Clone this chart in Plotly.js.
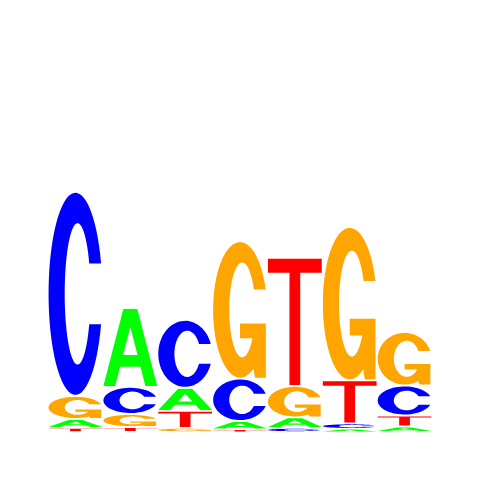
<!DOCTYPE html>
<html>
<head>
<meta charset="utf-8">
<script src="https://cdn.plot.ly/plotly-3.0.1.min.js"></script>
<style>html,body{margin:0;padding:0;background:#fff}#logo{width:480px;height:480px}</style>
</head>
<body>
<div id="logo"></div>
<script>
// letter heights in bits for each motif position
const positions = [1, 2, 3, 4, 5, 6, 7];
const letters = ['A', 'C', 'G', 'T'];
const heightA = [0.047, 0.411, 0.120, 0.044, 0.055, 0.016, 0.029];
const heightC = [1.063, 0.141, 0.354, 0.221, 0.021, 0.029, 0.156];
const heightG = [0.120, 0.068, 0.021, 0.716, 0.164, 0.799, 0.279];
const heightT = [0.021, 0.026, 0.089, 0.013, 0.667, 0.224, 0.057];

const letterColors = {A: '#00ff00', C: '#0000ff', G: '#ffa500', T: '#ff0000'};

// glyph outlines in a unit box (u across, v up)
function ellipsePts(cx, rx, ry, a, b, n) {
    let pts = [];
    for (let i = 0; i <= n; i++) {
        let t = a + (b - a) * i / n;
        pts.push([cx + rx * Math.cos(t), 0.5 + ry * Math.sin(t)]);
    }
    return pts;
}

const a0 = Math.asin(0.3);          // outer terminal at v = 0.65 / 0.35
const b0 = Math.asin(0.15 / 0.35);  // inner terminal
const glyphs = {
    A: [
        [[0, 0], [0.37, 1], [0.63, 1], [1, 0], [0.78, 0], [0.69, 0.25], [0.31, 0.25], [0.22, 0]],
        [[0.365, 0.40], [0.635, 0.40], [0.5, 0.77]]
    ],
    T: [
        [[0, 1], [1, 1], [1, 0.89], [0.6, 0.89], [0.6, 0], [0.4, 0], [0.4, 0.89], [0, 0.89]]
    ],
    C: [
        ellipsePts(0.5, 0.5, 0.5, a0, 2 * Math.PI - a0, 60)
            .concat(ellipsePts(0.54, 0.24, 0.35, 2 * Math.PI - b0, b0, 60))
    ],
    G: [
        ellipsePts(0.5, 0.5, 0.5, a0, 5 * Math.PI / 3, 60)
            .concat([[0.78, 0], [0.98, 0], [0.98, 0.40], [0.5, 0.40], [0.5, 0.29]])
            .concat(ellipsePts(0.54, 0.24, 0.35, 2 * Math.PI - Math.asin(0.6), b0, 60))
    ]
};

function glyphPath(letter, pos, y0, y1) {
    const pad = 0.01;
    const x0 = pos - 0.5 + pad, w = 1 - 2 * pad;
    return glyphs[letter].map(poly =>
        'M' + poly.map(p => (x0 + p[0] * w).toFixed(4) + ',' + (y0 + p[1] * (y1 - y0)).toFixed(5)).join('L') + 'Z'
    ).join(' ');
}

const heights = {A: heightA, C: heightC, G: heightG, T: heightT};
let shapes = [];
positions.forEach((pos, i) => {
    let stack = letters.map(l => ({l: l, h: heights[l][i]})).sort((p, q) => p.h - q.h);
    let base = 0;
    stack.forEach(s => {
        const inset = Math.min(0.005, s.h * 0.2);
        shapes.push({
            type: 'path',
            xref: 'x',
            yref: 'y',
            path: glyphPath(s.l, pos, base + inset, base + s.h - inset),
            fillcolor: letterColors[s.l],
            line: {width: 0},
            layer: 'above'
        });
        base += s.h;
    });
});

let trace = {
    x: positions,
    y: positions.map(() => 0),
    type: 'scatter',
    mode: 'markers',
    marker: {opacity: 0},
    hoverinfo: 'skip',
    showlegend: false
};

let layout = {
    width: 480,
    height: 480,
    margin: {l: 48, r: 48, t: 48, b: 48},
    paper_bgcolor: '#ffffff',
    plot_bgcolor: '#ffffff',
    xaxis: {range: [0.5, 7.5], visible: false, fixedrange: true},
    yaxis: {range: [0, 2], visible: false, fixedrange: true},
    showlegend: false,
    shapes: shapes
};

Plotly.newPlot('logo', [trace], layout, {staticPlot: true, displayModeBar: false});
</script>
</body>
</html>
